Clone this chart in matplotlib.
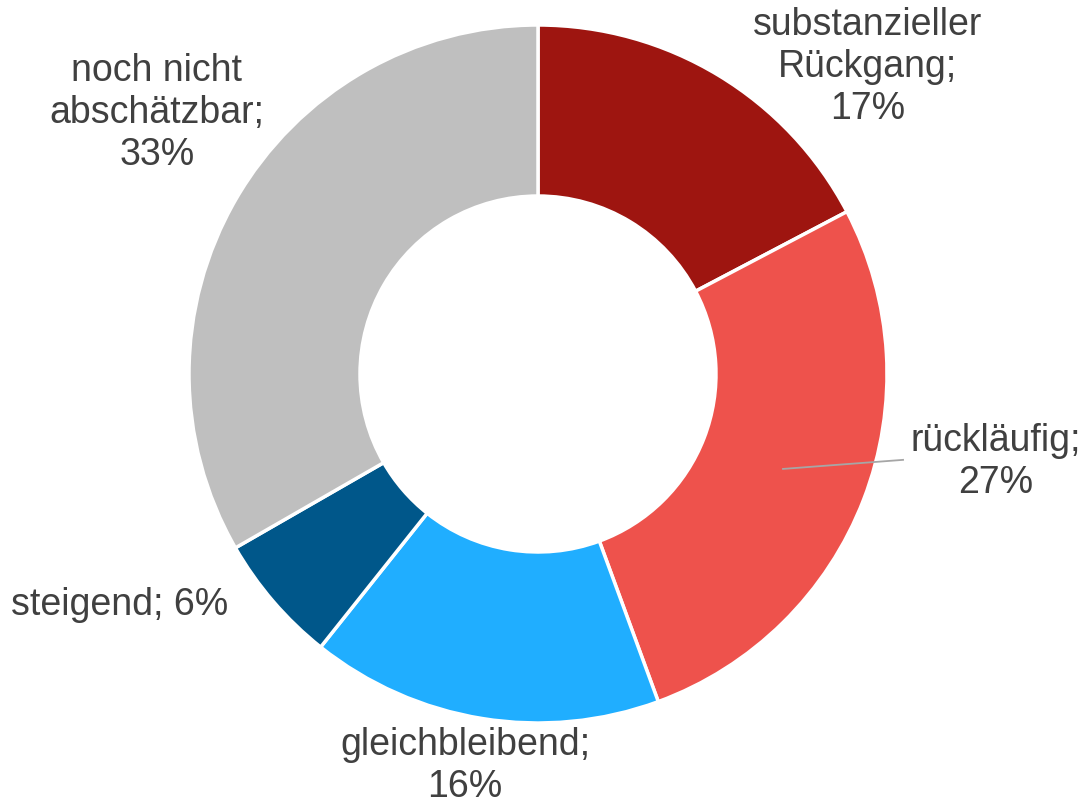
import matplotlib
matplotlib.use("Agg")
import matplotlib.pyplot as plt

# data
labels = ["substanzieller\nRückgang;\n17%", "rückläufig;\n27%", "gleichbleibend;\n16%",
          "steigend; 6%", "noch nicht\nabschätzbar;\n33%"]
values = [17.3, 27.1, 16.3, 6.0, 33.3]
colors = ["#9E1510", "#EE524C", "#20AEFF", "#00578A", "#BFBFBF"]

# label placement (data units, radius = 1)
label_pos = [(0.944, 0.883), (1.312, -0.249), (-0.209, -1.120),
             (-1.198, -0.659), (-1.092, 0.751)]

plt.rcParams['font.family'] = ['Liberation Sans', 'DejaVu Sans']

fig = plt.figure(figsize=(10.87, 8.04), dpi=100)
ax = fig.add_axes([0, 0, 1, 1])

ax.pie(values, colors=colors, startangle=90, counterclock=False, radius=1.0,
       wedgeprops=dict(width=0.49, edgecolor="white", linewidth=2.5))

# leader line for the second slice
ax.plot([0.702, 1.046], [-0.272, -0.246], color="#A6A6A6", lw=1.3, zorder=3)

for lab, (x, y) in zip(labels, label_pos):
    ax.text(x, y, lab, ha="center", va="center", multialignment="center",
            fontsize=27, color="#404040", linespacing=1.22)

ax.set_xlim(-538 / 349, (1087 - 538) / 349)
ax.set_ylim(-(804 - 375) / 349, 375 / 349)
ax.set_aspect("auto")
ax.axis("off")

fig.savefig("out.png", dpi=100)
